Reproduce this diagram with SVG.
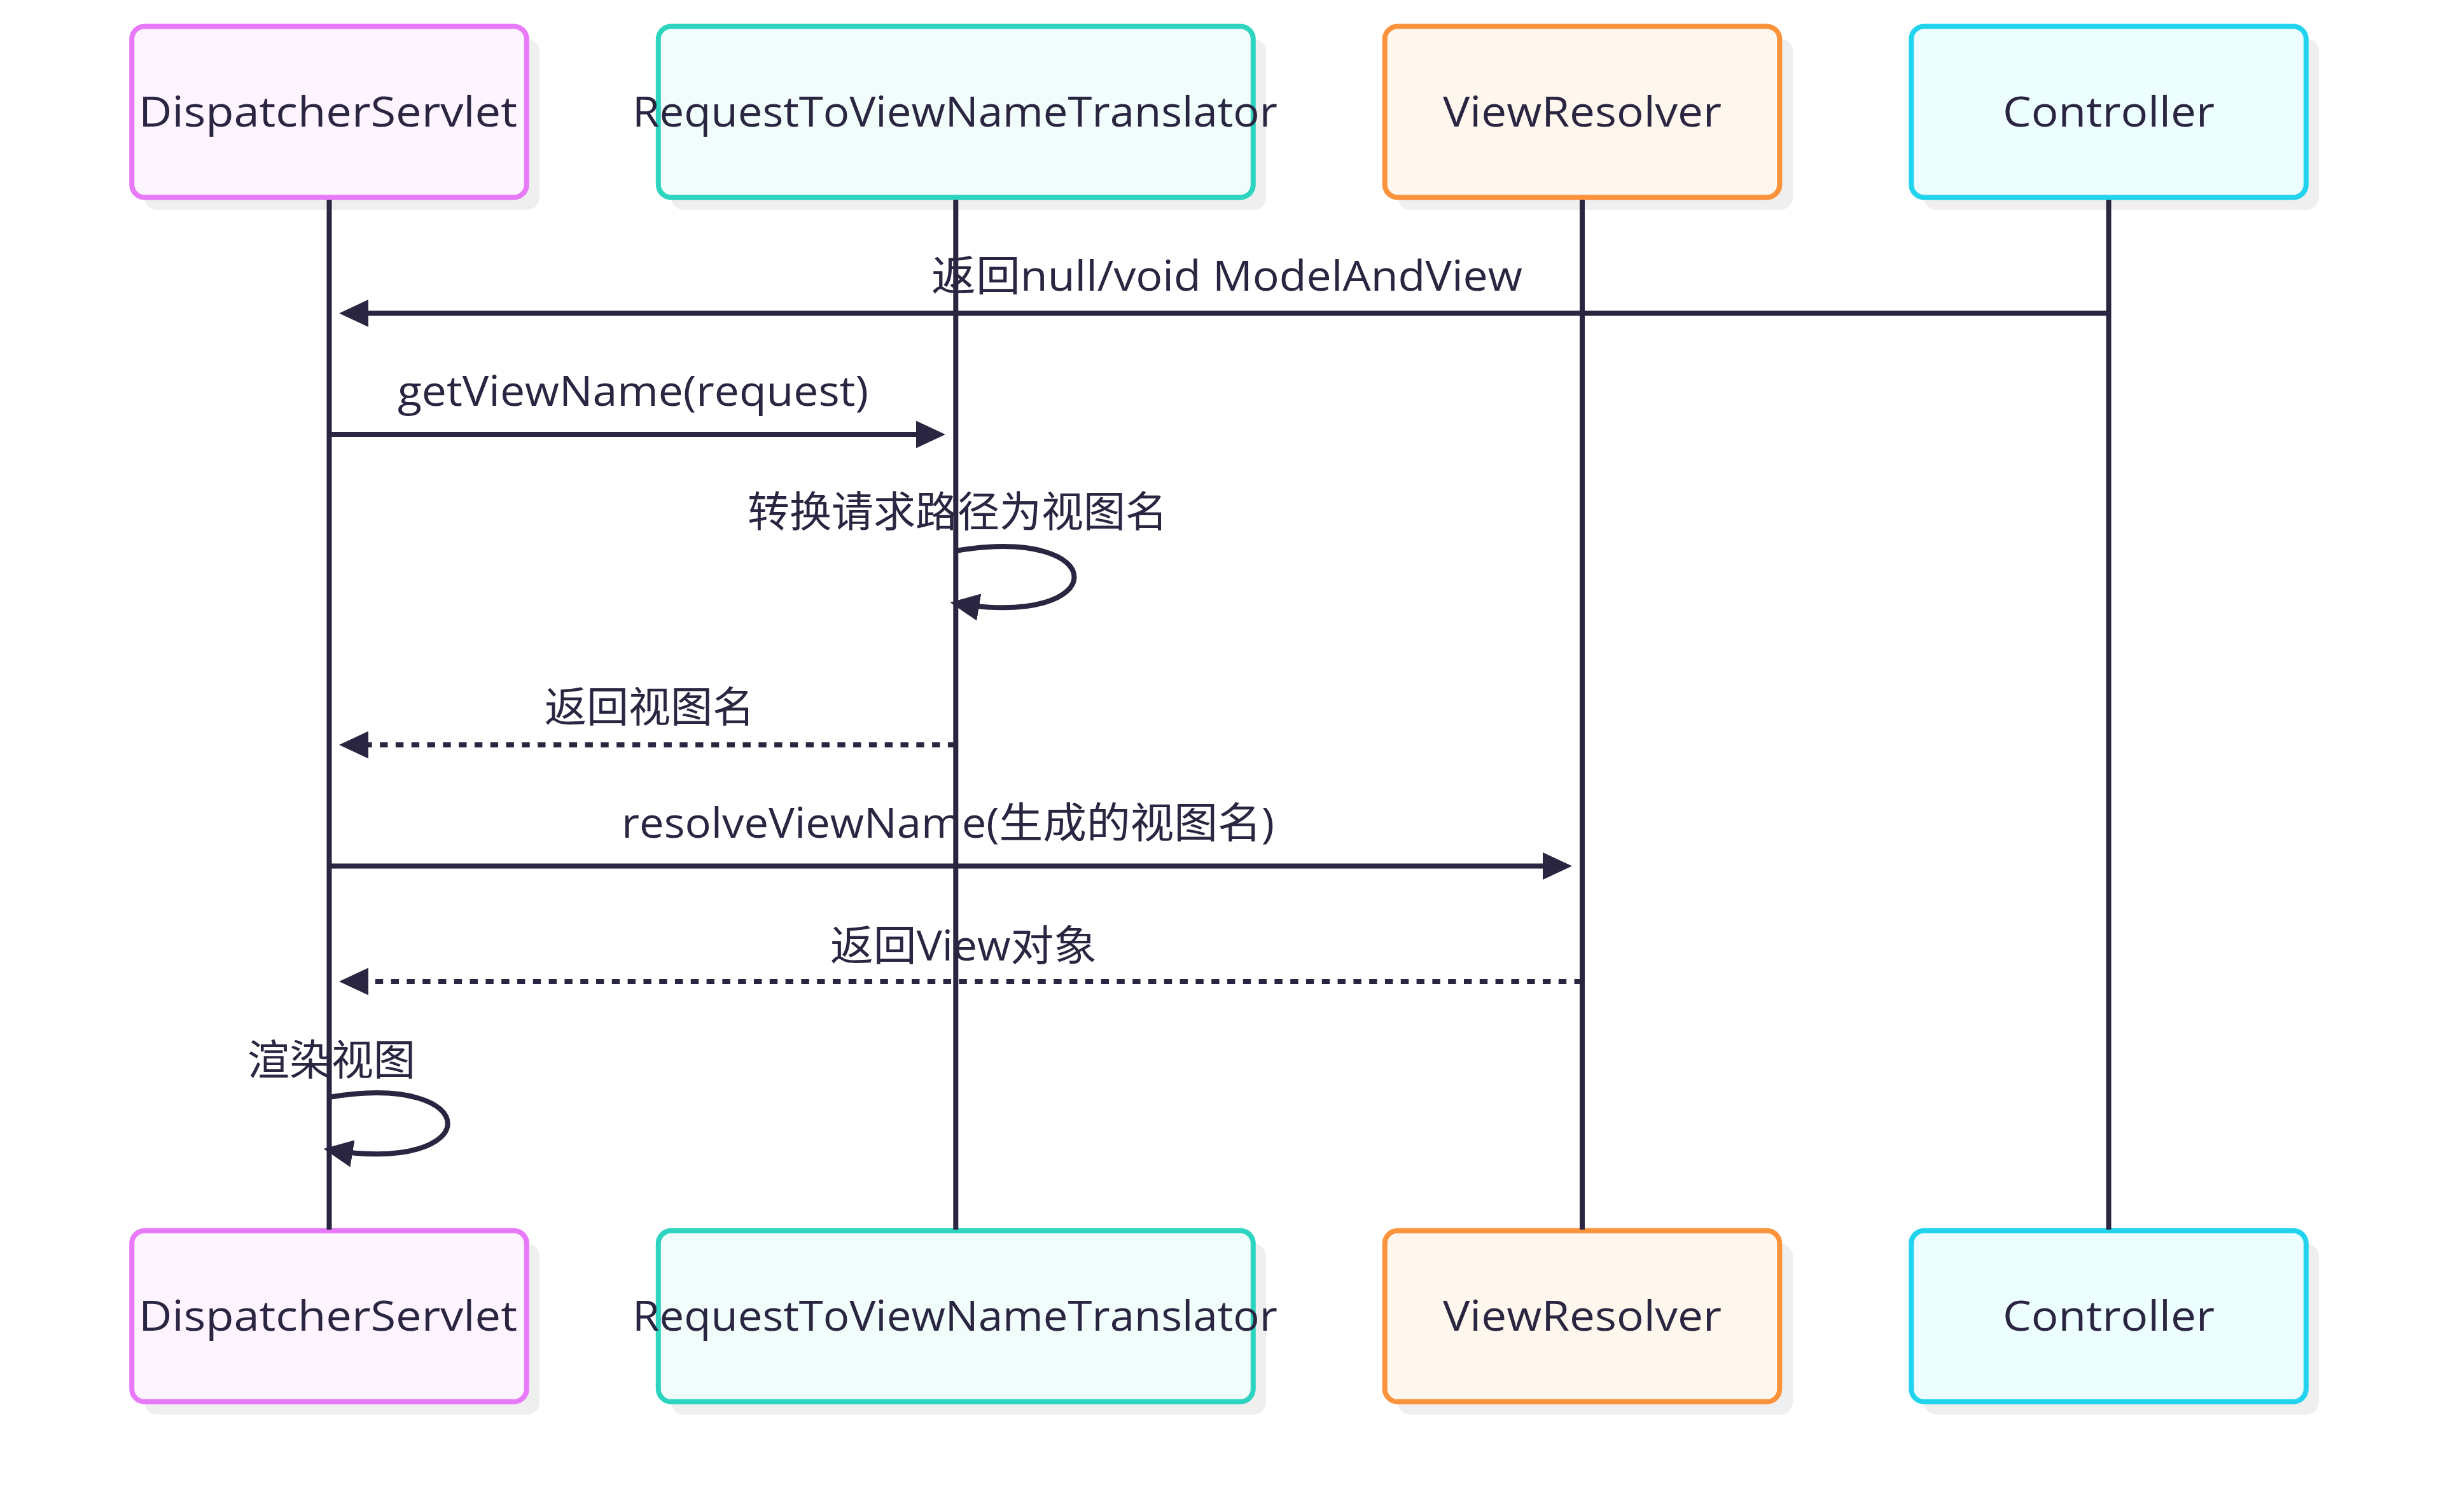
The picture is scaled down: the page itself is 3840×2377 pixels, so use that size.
<svg xmlns="http://www.w3.org/2000/svg" width="3840" height="2377" viewBox="0 0 3840 2377">
<style>
  .shadow { fill: #efefef; stroke: none; }
  .box { stroke-width: 8; }
  .ds { fill: #FDF4FF; stroke: #E879F9; }
  .rt { fill: #F0FDFA; stroke: #2DD4BF; }
  .vr { fill: #FFF7ED; stroke: #FB923C; }
  .ct { fill: #ECFEFF; stroke: #22D3EE; }
  .lbl { font-family: "Open Sans", "Noto Sans CJK SC", sans-serif; font-size: 66px; fill: #2a2540; }
  .life { stroke: #2a2540; stroke-width: 8; fill: none; }
  .msg { stroke: #2a2540; stroke-width: 8; fill: none; marker-end: url(#arrow); }
  .dot { stroke-dasharray: 12.4 12.4; }
</style>
<defs>
  <marker id="arrow" viewBox="0 0 46 43" markerUnits="userSpaceOnUse" markerWidth="46" markerHeight="43" refX="37" refY="21.5" orient="auto">
    <path d="M0,0 L46,21.5 L0,43 z" fill="#2a2540"/>
  </marker>
</defs>
<rect width="3840" height="2377" fill="#ffffff"/>

<g id="actor-DispatcherServlet-top">
  <rect class="shadow" x="227" y="61" width="621" height="269" rx="20"/>
  <rect class="box ds" x="207.2" y="41.4" width="620.6" height="268.9" rx="20"/>
  <text class="lbl" x="218" y="199" textLength="595" lengthAdjust="spacingAndGlyphs">DispatcherServlet</text>
</g>
<g id="actor-RequestToViewNameTranslator-top">
  <rect class="shadow" x="1055" y="61" width="935" height="269" rx="20"/>
  <rect class="box rt" x="1034.8" y="41.4" width="935" height="268.9" rx="20"/>
  <text class="lbl" x="994" y="199" textLength="1014" lengthAdjust="spacingAndGlyphs">RequestToViewNameTranslator</text>
</g>
<g id="actor-ViewResolver-top">
  <rect class="shadow" x="2197" y="61" width="621" height="269" rx="20"/>
  <rect class="box vr" x="2176.7" y="41.4" width="620.6" height="268.9" rx="20"/>
  <text class="lbl" x="2268" y="199" textLength="438" lengthAdjust="spacingAndGlyphs">ViewResolver</text>
</g>
<g id="actor-Controller-top">
  <rect class="shadow" x="3024" y="61" width="621" height="269" rx="20"/>
  <rect class="box ct" x="3004.2" y="41.4" width="620.6" height="268.9" rx="20"/>
  <text class="lbl" x="3148" y="199" textLength="333" lengthAdjust="spacingAndGlyphs">Controller</text>
</g>

<g id="actor-DispatcherServlet-bottom">
  <rect class="shadow" x="227" y="1955" width="621" height="269" rx="20"/>
  <rect class="box ds" x="207.2" y="1934.7" width="620.6" height="268.9" rx="20"/>
  <text class="lbl" x="218" y="2092" textLength="595" lengthAdjust="spacingAndGlyphs">DispatcherServlet</text>
</g>
<g id="actor-RequestToViewNameTranslator-bottom">
  <rect class="shadow" x="1055" y="1955" width="935" height="269" rx="20"/>
  <rect class="box rt" x="1034.8" y="1934.7" width="935" height="268.9" rx="20"/>
  <text class="lbl" x="994" y="2092" textLength="1014" lengthAdjust="spacingAndGlyphs">RequestToViewNameTranslator</text>
</g>
<g id="actor-ViewResolver-bottom">
  <rect class="shadow" x="2197" y="1955" width="621" height="269" rx="20"/>
  <rect class="box vr" x="2176.7" y="1934.7" width="620.6" height="268.9" rx="20"/>
  <text class="lbl" x="2268" y="2092" textLength="438" lengthAdjust="spacingAndGlyphs">ViewResolver</text>
</g>
<g id="actor-Controller-bottom">
  <rect class="shadow" x="3024" y="1955" width="621" height="269" rx="20"/>
  <rect class="box ct" x="3004.2" y="1934.7" width="620.6" height="268.9" rx="20"/>
  <text class="lbl" x="3148" y="2092" textLength="333" lengthAdjust="spacingAndGlyphs">Controller</text>
</g>

<g id="lifelines">
  <line class="life" x1="517.5" y1="314" x2="517.5" y2="1933"/>
  <line class="life" x1="1502.3" y1="314" x2="1502.3" y2="1933"/>
  <line class="life" x1="2487" y1="314" x2="2487" y2="1933"/>
  <line class="life" x1="3314.5" y1="314" x2="3314.5" y2="1933"/>
</g>

<g id="connectors">
  <line class="msg" x1="3314.5" y1="492.5" x2="542" y2="492.5"/>
  <line class="msg" x1="517.5" y1="683" x2="1477" y2="683"/>
  <path class="msg" d="M1502.3,866 C1750.6,824.6 1750.6,989.7 1502.3,948.5"/>
  <line class="msg dot" x1="1502.3" y1="1171" x2="542" y2="1171"/>
  <line class="msg" x1="517.5" y1="1361.5" x2="2462" y2="1361.5"/>
  <line class="msg dot" x1="2487" y1="1543" x2="542" y2="1543"/>
  <path class="msg" d="M517.5,1725 C765.8,1683.6 765.8,1848.7 517.5,1807.5"/>
</g>

<g id="message-labels">
  <text class="lbl" x="1464" y="457" textLength="929" lengthAdjust="spacingAndGlyphs">返回null/void ModelAndView</text>
  <text class="lbl" x="625" y="638" textLength="740" lengthAdjust="spacingAndGlyphs">getViewName(request)</text>
  <text class="lbl" x="1505" y="828" text-anchor="middle">转换请求路径为视图名</text>
  <text class="lbl" x="1021" y="1135" text-anchor="middle">返回视图名</text>
  <text class="lbl" x="977" y="1317" textLength="1026" lengthAdjust="spacingAndGlyphs">resolveViewName(生成的视图名)</text>
  <text class="lbl" x="1305" y="1510" textLength="419" lengthAdjust="spacingAndGlyphs">返回View对象</text>
  <text class="lbl" x="521" y="1690" text-anchor="middle">渲染视图</text>
</g>
</svg>
